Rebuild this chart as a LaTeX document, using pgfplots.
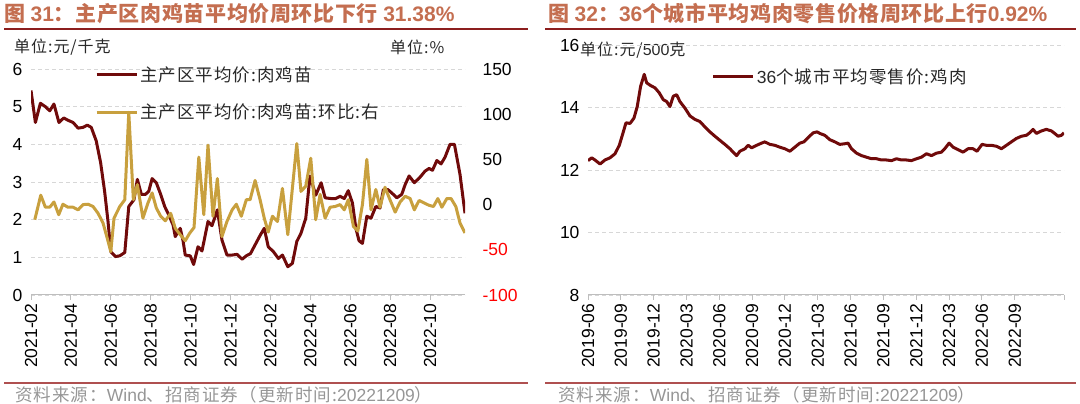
\documentclass[border=0pt]{standalone}
\usepackage{pgfplots}
\pgfplotsset{compat=1.18}
\usepackage{fontspec}
\setmainfont{Liberation Sans}
\newfontfamily\cjk{Noto Sans CJK SC}[LetterSpace=6]
\newfontfamily\cjkt{Noto Sans CJK SC}[LetterSpace=3]
\definecolor{dred}{RGB}{112,10,10}
\definecolor{goldc}{RGB}{200,160,62}
\definecolor{ttl}{RGB}{196,110,80}
\definecolor{rulec}{RGB}{140,30,30}
\definecolor{rulec2}{RGB}{175,80,80}
\definecolor{gridc}{RGB}{215,215,215}
\definecolor{axc}{RGB}{190,190,190}
\definecolor{srcc}{RGB}{150,150,150}
\definecolor{legc}{RGB}{40,40,40}

\pgfplotsset{
  base/.style={
    scale only axis,
    /pgf/number format/assume math mode=true,
    tick label style={font=\fontsize{17.5}{18}\selectfont, text=black},
    grid style={gridc, dash pattern=on 4pt off 3pt, line width=0.9pt},
    major tick length=5pt,
    tick align=outside,
    ytick style={draw=none},
    xtick style={axc, line width=1pt},
    x axis line style={axc, line width=1pt, -},
    y axis line style={draw=none},
    xticklabel style={rotate=90, anchor=east},
    legend image code/.code={\draw[#1] (0pt,0pt) -- (40pt,0pt);},
  },
  lstyle/.style={line width=3pt, line join=round},
}

\begin{document}
\begin{tikzpicture}[x=1pt,y=1pt]
\path[use as bounding box] (0,0) rectangle (1080,404);

% ---------- headings ----------
\node[anchor=west, text=ttl, font=\fontsize{21}{24}\selectfont\bfseries, inner sep=0pt] at (4,390)
  {{\cjkt 图 }31{\cjkt ：主产区肉鸡苗平均价周环比下行 }31.38\%};
\node[anchor=west, text=ttl, font=\fontsize{21}{24}\selectfont\bfseries, inner sep=0pt] at (548,390)
  {{\cjkt 图 }32{\cjkt ：}36{\cjkt 个城市平均鸡肉零售价格周环比上行}0.92\%};
\draw[rulec, line width=1.5pt] (4,375) -- (528,375);
\draw[rulec, line width=1.5pt] (545,375) -- (1076,375);
\draw[rulec2, line width=1.5pt] (4,21) -- (528,21);
\draw[rulec2, line width=1.5pt] (545,21) -- (1076,21);
\node[anchor=west, text=srcc, font=\fontsize{17.5}{20}\selectfont, inner sep=0pt] at (15,9)
  {{\cjk 资料来源：}Wind{\cjk 、招商证券（更新时间:}20221209{\cjk ）}};
\node[anchor=west, text=srcc, font=\fontsize{17.5}{20}\selectfont, inner sep=0pt] at (558,9)
  {{\cjk 资料来源：}Wind{\cjk 、招商证券（更新时间:}20221209{\cjk ）}};
\node[anchor=west, text=legc, font=\cjk\fontsize{16}{18}\selectfont, inner sep=0pt] at (14,357) {单位:元/千克};
\node[anchor=west, text=legc, font=\cjk\fontsize{16}{18}\selectfont, inner sep=0pt] at (390,357) {单位:\%};
\node[anchor=west, text=legc, font=\cjk\fontsize{16}{18}\selectfont, inner sep=0pt] at (580,354) {单位:元/{\rmfamily 500}克};

% ---------- left chart: price ----------
\begin{axis}[base,
  at={(31pt,109pt)}, anchor=south west, width=434pt, height=226pt,
  xmin=0, xmax=21.75, ymin=0, ymax=6,
  axis x line*=bottom, axis y line*=left,
  ytick={0,1,...,6}, ymajorgrids,
  xtick={0,2,...,20},
  xticklabels={2021-02,2021-04,2021-06,2021-08,2021-10,2021-12,2022-02,2022-04,2022-06,2022-08,2022-10},
  legend style={at={(0.147,1.02)}, anchor=north west, draw=none, fill=none,
    font=\cjk\fontsize{17.5}{20}\selectfont, text=legc, row sep=17pt, inner sep=0pt,
    cells={anchor=west},
    /tikz/every even column/.append style={column sep=4pt}},
]
\addplot[dred, lstyle] table {
0.00 5.43
0.22 4.58
0.47 5.09
0.72 5.00
0.94 4.89
1.15 5.07
1.40 4.58
1.64 4.70
1.85 4.64
2.11 4.58
2.36 4.43
2.61 4.45
2.82 4.51
3.02 4.45
3.27 4.09
3.49 3.51
3.69 2.75
3.86 1.95
4.00 1.15
4.23 1.02
4.45 1.04
4.70 1.13
4.90 2.35
5.16 2.53
5.33 3.07
5.53 2.67
5.73 2.67
5.90 2.75
6.07 3.09
6.28 2.98
6.50 2.67
6.70 2.35
6.90 2.13
7.12 1.86
7.23 1.55
7.37 1.68
7.48 1.77
7.62 1.44
7.73 1.06
7.98 1.04
8.15 0.81
8.37 1.28
8.57 1.17
8.87 1.95
9.07 1.84
9.34 2.26
9.57 1.46
9.82 1.06
10.08 1.06
10.33 1.08
10.58 0.95
10.79 1.04
11.00 1.10
11.23 1.33
11.48 1.58
11.69 1.77
11.89 1.28
12.15 1.15
12.40 0.97
12.60 1.06
12.87 0.75
13.10 0.84
13.32 1.42
13.53 1.64
13.77 2.04
13.98 3.16
14.27 2.65
14.54 2.98
14.74 2.58
15.04 2.56
15.27 2.56
15.49 2.62
15.70 2.56
15.90 2.77
16.11 2.44
16.28 1.77
16.44 1.44
16.61 1.37
16.83 2.09
17.04 2.04
17.28 2.35
17.49 2.31
17.66 2.80
17.88 2.80
18.08 2.71
18.33 2.58
18.58 2.67
18.75 2.93
18.95 3.16
19.21 2.98
19.50 3.13
19.75 3.29
19.95 3.36
20.12 3.31
20.34 3.57
20.55 3.48
20.75 3.66
21.00 4.00
21.22 4.00
21.50 3.20
21.75 2.17
};
\addlegendentry{主产区平均价:肉鸡苗}
\addlegendimage{goldc, lstyle}
\addlegendentry{主产区平均价:肉鸡苗:环比:右}
\end{axis}

% ---------- left chart: week-on-week ----------
\begin{axis}[base,
  at={(31pt,109pt)}, anchor=south west, width=434pt, height=226pt,
  xmin=0, xmax=21.75, ymin=-100, ymax=150,
  axis y line*=right, axis x line=none,
  ytick={-100,-50,0,50,100,150},
  yticklabels={{\textcolor{red}{-100}},{\textcolor{red}{-50}},0,50,100,150},
  yticklabel style={xshift=9pt},
]
\addplot[goldc, lstyle] table {
0.19 -16.7
0.49 10.4
0.72 -2.9
0.94 -2.9
1.15 2.9
1.39 -11.2
1.60 0.4
1.85 -2.9
2.11 -2.9
2.36 -5.8
2.61 0.0
2.86 0.4
3.11 -2.1
3.36 -9.6
3.61 -20.4
3.82 -37.1
4.00 -52.1
4.16 -15.0
4.45 -2.1
4.70 5.4
4.90 102.0
5.13 5.4
5.33 22.1
5.61 -15.0
5.86 1.7
6.07 12.9
6.28 -3.7
6.50 -12.9
6.73 -17.9
7.00 -9.6
7.23 -26.2
7.48 -33.3
7.73 -40.0
7.95 -31.7
8.17 -25.4
8.41 52.5
8.66 -11.2
8.87 65.8
9.12 -12.9
9.34 28.8
9.57 -35.4
9.82 -18.7
10.08 -5.8
10.29 0.4
10.54 -12.9
10.79 5.4
10.98 5.4
11.23 26.7
11.48 5.4
11.69 -15.0
11.89 -30.4
12.10 -12.9
12.35 -18.7
12.60 17.9
12.87 -33.3
13.32 67.5
13.53 14.6
13.77 20.4
14.02 51.3
14.27 -16.7
14.49 11.3
14.74 -15.0
14.99 -2.9
15.24 -2.1
15.49 0.0
15.70 -5.8
15.90 5.4
16.16 -24.2
16.38 -29.2
16.61 0.0
16.83 50.0
17.04 -5.8
17.28 16.7
17.49 -2.9
17.74 19.2
17.99 5.4
18.25 -8.3
18.50 2.9
18.75 9.2
19.00 6.7
19.21 -5.8
19.45 4.6
19.71 1.7
19.95 -0.8
20.17 -2.1
20.39 6.7
20.59 -2.9
20.84 6.7
21.05 6.7
21.29 -2.1
21.50 -20.4
21.75 -31.4
};
\end{axis}

% ---------- right chart ----------
\begin{axis}[base,
  at={(588pt,109pt)}, anchor=south west, width=476pt, height=250pt,
  xmin=0, xmax=43.5, ymin=8, ymax=16,
  axis x line*=bottom, axis y line*=left,
  ytick={8,10,...,16}, ymajorgrids,
  xtick={0,3,...,39},
  xticklabels={2019-06,2019-09,2019-12,2020-03,2020-06,2020-09,2020-12,2021-03,2021-06,2021-09,2021-12,2022-03,2022-06,2022-09},
  extra x ticks={43.5}, extra x tick labels={},
  legend style={at={(0.26,0.915)}, anchor=north west, draw=none, fill=none,
    font=\cjk\fontsize{17.5}{20}\selectfont, text=legc, inner sep=0pt,
    /tikz/every even column/.append style={column sep=4pt}},
]
\addplot[dred, lstyle] table {
0.00 12.30
0.34 12.39
0.64 12.32
1.10 12.19
1.55 12.32
2.01 12.39
2.47 12.52
2.86 12.79
3.17 13.15
3.47 13.51
3.84 13.49
4.20 13.66
4.50 14.03
4.81 14.68
5.14 15.06
5.36 14.79
5.73 14.70
6.12 14.63
6.51 14.47
6.88 14.25
7.19 14.19
7.49 14.03
7.79 14.36
8.10 14.41
8.40 14.19
8.86 13.98
9.32 13.73
9.77 13.62
10.23 13.55
10.68 13.38
11.14 13.22
11.60 13.08
12.05 12.95
12.51 12.82
12.97 12.68
13.27 12.57
13.58 12.46
13.88 12.60
14.34 12.68
14.64 12.79
14.95 12.71
15.41 12.79
15.86 12.86
16.16 12.90
16.62 12.82
17.08 12.79
17.53 12.73
17.99 12.68
18.45 12.60
18.90 12.73
19.36 12.86
19.73 12.90
20.12 13.04
20.58 13.19
20.94 13.22
21.19 13.17
21.64 13.11
22.10 12.97
22.56 12.90
23.01 12.82
23.47 12.84
23.77 12.86
24.08 12.68
24.54 12.54
25.00 12.46
25.45 12.41
25.91 12.36
26.37 12.36
26.82 12.32
27.28 12.32
27.74 12.30
28.19 12.36
28.65 12.32
29.11 12.32
29.56 12.30
30.02 12.36
30.47 12.41
30.93 12.52
31.39 12.46
31.85 12.54
32.30 12.57
32.60 12.68
33.00 12.86
33.36 12.73
33.82 12.65
34.27 12.57
34.73 12.68
35.19 12.68
35.55 12.60
36.01 12.82
36.41 12.79
36.87 12.79
37.32 12.76
37.78 12.68
38.24 12.79
38.69 12.90
39.15 13.01
39.61 13.08
40.06 13.11
40.37 13.19
40.67 13.30
40.98 13.17
41.44 13.25
41.89 13.30
42.35 13.25
42.65 13.17
42.96 13.08
43.26 13.11
43.50 13.19
};
\addlegendentry{\rmfamily 36\cjk 个城市平均零售价:鸡肉}
\end{axis}
\end{tikzpicture}
\end{document}
